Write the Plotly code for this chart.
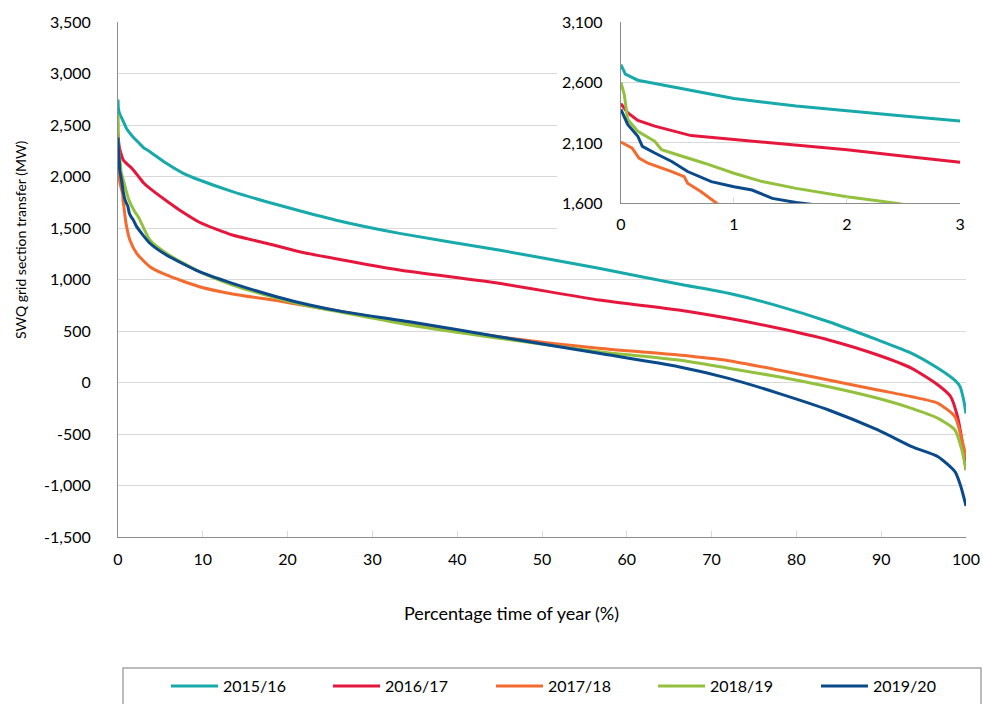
import plotly.graph_objects as go

FONT = "Lato, 'DejaVu Sans', sans-serif"

series_names = ["2015/16", "2016/17", "2017/18", "2018/19", "2019/20"]
series_colors = ["#18A9AA", "#E6173D", "#F36B2F", "#93C03D", "#0A4A8A"]

x_1516 = [0, 0.04, 0.15, 0.36, 0.65, 1.0, 1.55, 2.0, 2.45, 3.0, 3.76, 5.7, 7.7, 9.6, 13.5, 17.5, 21.4,
          26.5, 33.2, 44.9, 56.7, 66.1, 72.0, 77.9, 83.8, 89.6, 93.6, 96.7, 98.7, 99.3, 99.7, 100]
y_1516 = [2747, 2669, 2619, 2581, 2531, 2467, 2406, 2364, 2328, 2281, 2241, 2128, 2031, 1966, 1853, 1755, 1668,
          1561, 1448, 1286, 1109, 956, 866, 742, 590, 413, 283, 138, 20, -40, -160, -300]

x_1617 = [0, 0.06, 0.15, 0.3, 0.62, 1.0, 1.55, 2.0, 2.45, 3.0, 3.76, 5.7, 7.7, 9.6, 13.5, 17.5, 21.4,
          26.5, 33.2, 44.9, 56.7, 66.1, 72.0, 77.9, 83.8, 89.6, 93.6, 96.7, 98.2, 99.0, 99.5, 100]
y_1617 = [2425, 2350, 2286, 2239, 2161, 2128, 2086, 2044, 1997, 1940, 1885, 1765, 1650, 1556, 1432, 1352, 1270,
          1189, 1092, 963, 801, 704, 623, 526, 413, 267, 138, -24, -138, -332, -550, -850]

x_1718 = [0, 0.1, 0.16, 0.24, 0.45, 0.56, 0.59, 0.71, 0.85, 1.0, 1.4, 2.2, 3.76, 5.7, 9.6, 13.5, 18.7,
          22.6, 26.5, 33.2, 44.9, 56.7, 66.1, 72.0, 77.9, 83.8, 89.6, 93.6, 96.7, 98.7, 99.5, 100]
y_1718 = [2108, 2058, 1975, 1933, 1864, 1822, 1767, 1697, 1600, 1520, 1383, 1254, 1124, 1044, 930, 860, 795,
          740, 688, 590, 445, 332, 267, 212, 121, 24, -73, -138, -202, -332, -550, -720]

x_1819 = [0, 0.03, 0.06, 0.15, 0.3, 0.36, 0.5, 0.74, 1.0, 1.25, 1.55, 2.0, 2.45, 3.76, 5.7, 9.6, 13.5,
          18.7, 22.6, 26.5, 34.4, 44.9, 56.7, 66.1, 72.0, 77.9, 83.8, 89.6, 93.6, 96.7, 98.7, 99.5, 100]
y_1819 = [2600, 2503, 2294, 2197, 2114, 2044, 2003, 1933, 1850, 1781, 1725, 1656, 1600, 1383, 1254, 1076, 947,
          820, 740, 680, 558, 429, 299, 218, 138, 56, -41, -153, -251, -348, -461, -650, -850]

x_1920 = [0, 0.03, 0.06, 0.15, 0.19, 0.3, 0.45, 0.59, 0.8, 1.0, 1.16, 1.34, 1.55, 1.79, 2.2, 3.76, 5.7,
          9.6, 13.5, 18.7, 22.6, 26.5, 34.4, 44.9, 56.7, 66.1, 72.0, 77.9, 83.8, 89.6, 93.6, 96.7, 98.7, 99.4, 100]
y_1920 = [2378, 2322, 2253, 2156, 2072, 2017, 1947, 1864, 1781, 1739, 1711, 1642, 1608, 1581, 1513, 1352, 1238,
          1076, 963, 833, 752, 688, 590, 445, 283, 153, 40, -105, -267, -461, -623, -720, -866, -1012, -1199]

series_x = [x_1516, x_1617, x_1718, x_1819, x_1920]
series_y = [y_1516, y_1617, y_1718, y_1819, y_1920]

main_yticks = [3500, 3000, 2500, 2000, 1500, 1000, 500, 0, -500, -1000, -1500]
main_ytext = ["3,500", "3,000", "2,500", "2,000", "1,500", "1,000", "500", "0", "-500", "-1,000", "-1,500"]
main_xticks = [0, 10, 20, 30, 40, 50, 60, 70, 80, 90, 100]
inset_yticks = [1600, 2100, 2600, 3100]
inset_ytext = ["1,600", "2,100", "2,600", "3,100"]
inset_xticks = [0, 1, 2, 3]

x_title = "Percentage time of year (%)"
y_title = "SWQ grid section transfer (MW)"

W, H = 983, 704
legend_line_px = [171, 333, 496, 658, 821]   # left end of each legend swatch

fig = go.Figure()
for i, (name, color, xs, ys) in enumerate(zip(series_names, series_colors, series_x, series_y)):
    lg = "legend" if i == 0 else f"legend{i + 1}"
    fig.add_trace(go.Scatter(x=xs, y=ys, mode="lines", name=name, legend=lg,
                             line=dict(color=color, width=3, shape="spline", smoothing=0.6),
                             xaxis="x", yaxis="y"))
for name, color, xs, ys in zip(series_names, series_colors, series_x, series_y):
    fig.add_trace(go.Scatter(x=xs, y=ys, mode="lines", name=name, showlegend=False,
                             line=dict(color=color, width=3), xaxis="x2", yaxis="y2"))

grid = "#D9D9D9"
axis_line = "#8C8C8C"

legends = {}
for i, px in enumerate(legend_line_px):
    key = "legend" if i == 0 else f"legend{i + 1}"
    legends[key] = dict(orientation="h", xref="container", yref="container",
                        x=(px - 5) / W, xanchor="left", y=1 - 686 / H, yanchor="middle",
                        font=dict(size=16), itemwidth=47, bgcolor="rgba(0,0,0,0)", borderwidth=0)

fig.update_layout(
    width=W, height=H,
    margin=dict(l=118, r=17, t=22, b=167, autoexpand=False),
    paper_bgcolor="white", plot_bgcolor="rgba(0,0,0,0)",
    font=dict(family=FONT, size=16, color="#000000"),
    showlegend=True,
    xaxis=dict(domain=[0, 1], range=[0, 100], tickvals=main_xticks, showgrid=False,
               showline=True, linecolor=axis_line, linewidth=1,
               ticks="inside", ticklen=6, tickcolor=grid, tickfont=dict(size=16),
               ticklabelstandoff=8, zeroline=False, fixedrange=True),
    yaxis=dict(domain=[0, 1], range=[-1500, 3500], tickvals=main_yticks, ticktext=main_ytext,
               showgrid=True, gridcolor=grid, gridwidth=1, showline=True, linecolor=axis_line,
               linewidth=1, ticks="", zeroline=False, tickfont=dict(size=16), ticklabelstandoff=23),
    xaxis2=dict(domain=[0.593, 0.993], range=[0, 3], tickvals=inset_xticks, anchor="y2",
                showgrid=False, showline=True, linecolor=axis_line, linewidth=1,
                ticks="inside", ticklen=6, tickcolor=grid, tickfont=dict(size=16),
                ticklabelstandoff=6, zeroline=False),
    yaxis2=dict(domain=[0.6476, 1.0], range=[1600, 3100], tickvals=inset_yticks, ticktext=inset_ytext,
                anchor="x2", showgrid=True, gridcolor=grid, showline=True, linecolor=axis_line,
                linewidth=1, ticks="", zeroline=False, tickfont=dict(size=16), ticklabelstandoff=14),
    shapes=[
        dict(type="rect", xref="x", yref="y", x0=51.8, x1=100.5, y0=1390, y1=3600,
             fillcolor="white", line=dict(width=0), layer="between"),
        dict(type="rect", xref="paper", yref="paper", x0=(123 - 118) / 848, x1=(981 - 118) / 848,
             y0=-(668 - 537) / 515, y1=-(720 - 537) / 515,
             fillcolor="rgba(0,0,0,0)", line=dict(color="#A6A6A6", width=1.5), layer="above"),
    ],
    annotations=[
        dict(text=x_title, xref="paper", yref="paper", x=(511 - 118) / 848, y=-(613 - 537) / 515,
             xanchor="center", yanchor="middle", showarrow=False, font=dict(size=18)),
        dict(text=y_title, xref="paper", yref="paper", x=-(118 - 21) / 848, y=(537 - 240) / 515,
             xanchor="center", yanchor="middle", showarrow=False, textangle=-90, font=dict(size=14)),
    ],
    **legends,
)

fig.write_html("out.html", config={"displayModeBar": False},
               post_script="document.body.style.margin='0px';document.body.style.padding='0px';")
